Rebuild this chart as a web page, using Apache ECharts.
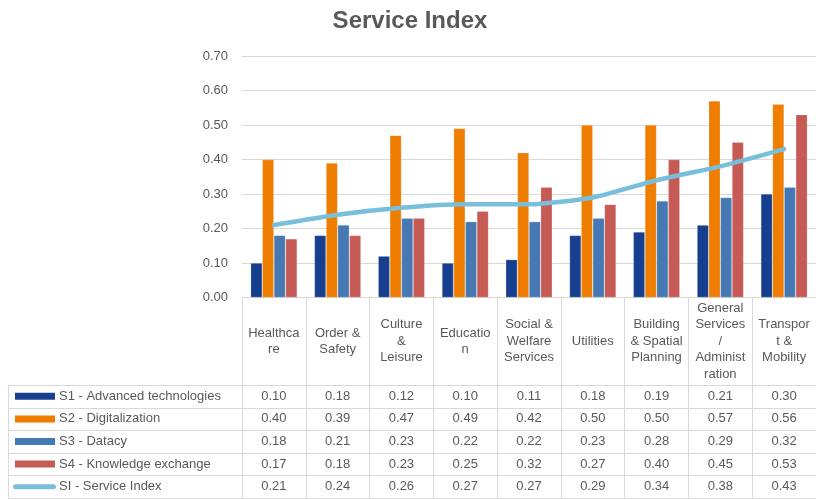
<!DOCTYPE html>
<html>
<head>
<meta charset="utf-8">
<script src="https://cdn.jsdelivr.net/npm/echarts@6/dist/echarts.min.js"></script>
<style>html,body{margin:0;padding:0;background:#fff;}#c{width:816px;height:499px;}</style>
</head>
<body>
<div id="c"></div>
<script>
var categories = ['Healthca\nre', 'Order &\nSafety', 'Culture\n&\nLeisure', 'Educatio\nn', 'Social &\nWelfare\nServices', 'Utilities', 'Building\n& Spatial\nPlanning', 'General\nServices\n/\nAdminist\nration', 'Transpor\nt &\nMobility'];
var seriesNames = ['S1 - Advanced technologies', 'S2 - Digitalization', 'S3 - Datacy', 'S4 - Knowledge exchange', 'SI - Service Index'];
var s1 = [0.10, 0.18, 0.12, 0.10, 0.11, 0.18, 0.19, 0.21, 0.30];
var s2 = [0.40, 0.39, 0.47, 0.49, 0.42, 0.50, 0.50, 0.57, 0.56];
var s3 = [0.18, 0.21, 0.23, 0.22, 0.22, 0.23, 0.28, 0.29, 0.32];
var s4 = [0.17, 0.18, 0.23, 0.25, 0.32, 0.27, 0.40, 0.45, 0.53];
var si = [0.21, 0.24, 0.26, 0.27, 0.27, 0.29, 0.34, 0.38, 0.43];
var yTicks = [0, 0.1, 0.2, 0.3, 0.4, 0.5, 0.6, 0.7];

var rows = [s1, s2, s3, s4, si];
var colors = ['#173F8F', '#EE7D00', '#4679B4', '#C65A55', '#79BFDC'];
var font = "'Liberation Sans', Arial, sans-serif";
var txt = '#595959';
var lineCol = '#D9D9D9';

// layout
var gridLeft = 242, gridTop = 56, gridBottomY = 297.5;
var headerBottom = 385;
var rowH = 22.6;
var tableLeft = 8, tableRight = 816;

var chart = echarts.init(document.getElementById('c'));

var xAxes = [{
  type: 'category', data: categories, gridIndex: 0, position: 'bottom',
  axisLine: {show: true, lineStyle: {color: lineCol, width: 1}},
  axisTick: {show: true, length: 200.5, lineStyle: {color: lineCol, width: 1}},
  axisLabel: {interval: 0, margin: (headerBottom - gridBottomY) / 2, verticalAlign: 'middle', lineHeight: 16.5,
    fontSize: 13, color: txt, fontFamily: font},
  splitLine: {show: false}
}];
rows.forEach(function (r, k) {
  xAxes.push({
    type: 'category', data: categories, gridIndex: 0, position: 'bottom',
    offset: headerBottom - gridBottomY + k * rowH,
    axisLine: {show: false}, axisTick: {show: false}, splitLine: {show: false},
    axisLabel: {interval: 0, margin: rowH / 2, verticalAlign: 'middle', fontSize: 13, color: txt, fontFamily: font,
      formatter: (function (arr) { return function (v, i) { return arr[i].toFixed(2); }; })(r)}
  });
});

var legends = seriesNames.map(function (n, k) {
  var isLine = k === 4;
  return {
    data: [{name: n, icon: isLine ? 'path://M2.5,0 L40.5,0 A2.5,2.5 0 0 1 40.5,5 L2.5,5 A2.5,2.5 0 0 1 2.5,0 Z' : 'rect'}],
    left: isLine ? 13 : 15, top: headerBottom + k * rowH + rowH / 2 - 8, padding: 0,
    itemWidth: isLine ? 43 : 40, itemHeight: isLine ? 5 : 7, itemGap: 5,
    selectedMode: false,
    itemStyle: {borderWidth: 0},
    textStyle: {fontSize: 13, color: txt, fontFamily: font, lineHeight: 16, padding: isLine ? [0, 0, 0, -2] : [0, 0, 0, -1]}
  };
});

var graphics = [];
for (var k = 0; k <= 5; k++) {
  var y = Math.round(headerBottom + k * rowH) + 0.5;
  graphics.push({type: 'line', shape: {x1: tableLeft, y1: y, x2: tableRight, y2: y}, style: {stroke: lineCol, lineWidth: 1}, silent: true});
}
graphics.push({type: 'line', shape: {x1: tableLeft + 0.5, y1: headerBottom + 0.5, x2: tableLeft + 0.5, y2: Math.round(headerBottom + 5 * rowH) + 0.5}, style: {stroke: lineCol, lineWidth: 1}, silent: true});

var series = [];
[s1, s2, s3, s4].forEach(function (d, k) {
  series.push({
    name: seriesNames[k], type: 'bar', data: d, xAxisIndex: 0, yAxisIndex: 0,
    barGap: 0, barCategoryGap: '27%',
    itemStyle: {color: colors[k], borderColor: 'rgba(255,255,255,0.35)', borderWidth: 0.6}
  });
});
series.push({
  name: seriesNames[4], type: 'line', data: si, xAxisIndex: 0, yAxisIndex: 0,
  symbol: 'none', smooth: 0.2, z: 5,
  lineStyle: {color: colors[4], width: 4.5, cap: 'round'},
  itemStyle: {color: colors[4]}
});

chart.setOption({
  animation: false,
  textStyle: {fontFamily: font},
  title: {text: 'Service Index', left: 405, textAlign: 'center', top: 4,
    textStyle: {fontSize: 24, fontWeight: 'bold', color: txt, fontFamily: font}},
  grid: {left: gridLeft, top: gridTop, width: 9 * 64.4, height: gridBottomY - gridTop, containLabel: false},
  xAxis: xAxes,
  yAxis: {type: 'value', min: yTicks[0], max: yTicks[yTicks.length - 1], interval: 0.1,
    axisLine: {show: false}, axisTick: {show: false},
    axisLabel: {margin: 14, fontSize: 13, color: txt, fontFamily: font, formatter: function (v) { return v.toFixed(2); }},
    splitLine: {lineStyle: {color: lineCol, width: 1}}},
  legend: legends,
  graphic: graphics,
  series: series
});
</script>
</body>
</html>
